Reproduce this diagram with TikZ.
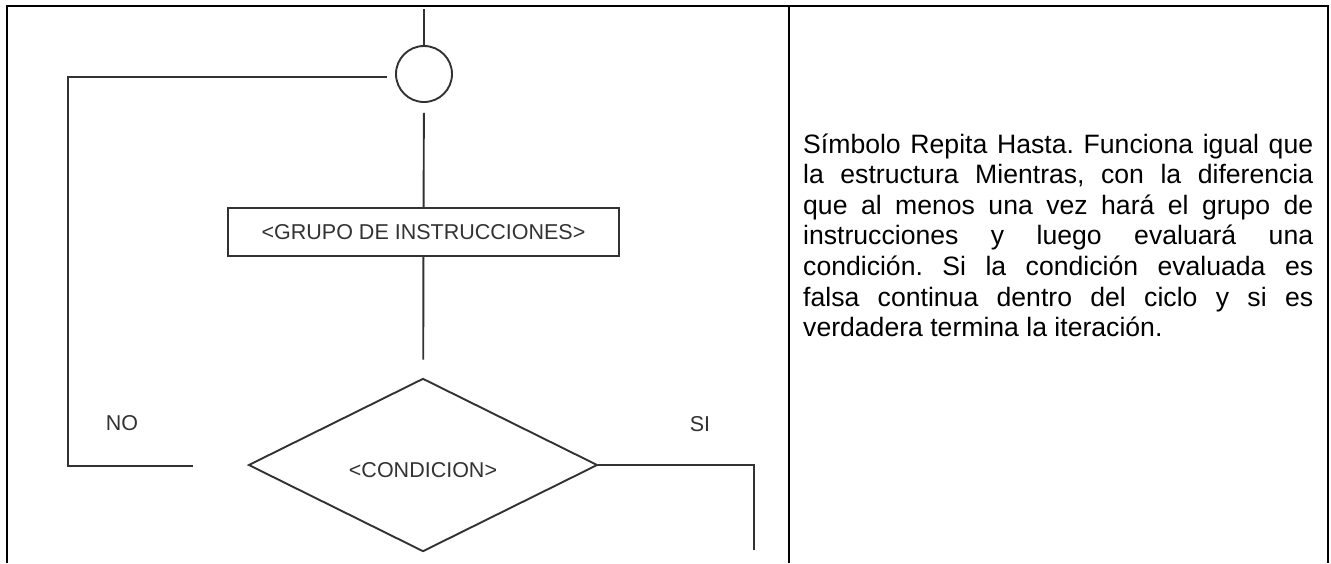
\documentclass[tikz,border=0pt]{standalone}
\usepackage{fontspec}
\setmainfont{Liberation Sans}
\usetikzlibrary{shapes.geometric}
\definecolor{trazo}{RGB}{50,50,50}
\frenchspacing
\tikzset{
  marco/.style={line width=2pt, black},
  flujo/.style={line width=1.9pt, trazo},
  rotulo/.style={text=trazo, font=\fontsize{21.5}{24}\selectfont, inner sep=0pt}
}
\begin{document}
\begin{tikzpicture}[x=1pt, y=-1pt]
        \useasboundingbox (0,0) rectangle (1331,563);
        %% table frame
        \draw[marco] (7,563) |- (1328,6) -- (1328,563);
        \draw[marco] (789,6) -- (789,563);
        %% repeat-until symbol
        \coordinate (entrada) at (424,9);
        \node[flujo, draw, circle, minimum size=56pt, inner sep=0pt] (junta) at (424,74) {};
        \node[flujo, draw, rotulo, minimum width=391pt, minimum height=48pt] (grupo) at (423.5,232) {<GRUPO DE INSTRUCCIONES>};
        \node[flujo, draw, rotulo, diamond, minimum width=349pt, minimum height=151pt,
              text height=25pt, text depth=0pt] (cond) at (423,465) {<CONDICION>};
        \coordinate (noend) at (193,466);
        \coordinate (vuelta) at (68,77);
        \coordinate (sifin) at (754,550);
        \draw[flujo] (entrada) -- (junta);
        \draw[flujo, shorten <=10pt] (junta) -- (grupo);
        \draw[flujo, shorten >=18pt] (grupo) -- (cond);
        \draw[flujo, shorten >=8pt] (noend) -| (vuelta) -- (junta.west |- vuelta);
        \draw[flujo] (cond.east) -| (sifin);
        \node[rotulo] (no) at (122,423) {NO};
        \node[rotulo] (si) at (700,424) {SI};
        %% description
        \node[anchor=base west, text width=510pt, align=justify, inner sep=0pt,
              font=\fontsize{26.6}{30.6}\selectfont] (texto) at (803,153)
            {\hyphenpenalty=10000 Símbolo Repita Hasta. Funciona igual que\linebreak
             la estructura Mientras, con la diferencia\linebreak
             que al menos una vez hará el grupo de\linebreak
             instrucciones y luego evaluará una\linebreak
             condición. Si la condición evaluada es\linebreak
             falsa continua dentro del ciclo y si es\linebreak
             verdadera termina la iteración.};
\end{tikzpicture}
\end{document}
